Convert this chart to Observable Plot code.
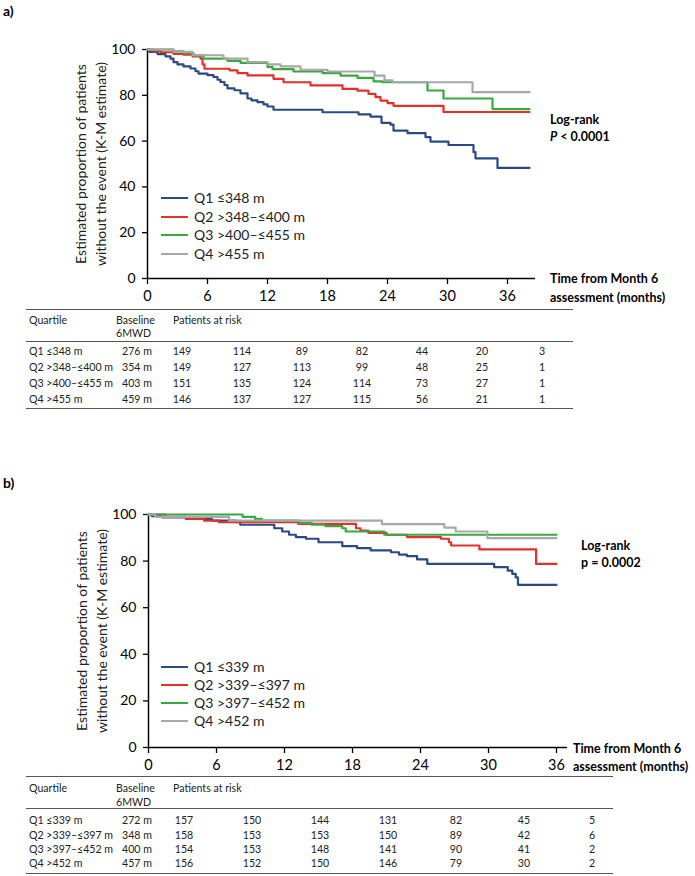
<!DOCTYPE html>
<html>
<head>
<meta charset="utf-8">
<script src="https://cdn.jsdelivr.net/npm/d3@7"></script>
<script src="https://cdn.jsdelivr.net/npm/@observablehq/plot@0.6"></script>
<style>
  html, body { margin: 0; padding: 0; background: #fff; }
  #page { position: relative; width: 695px; height: 876px; overflow: hidden; font-family: Lato, "Noto Sans", sans-serif; color: #000; }
  .abs { position: absolute; white-space: nowrap; line-height: 16px; }
  .bold { font-weight: bold; }
  .tbl { font-size: 10.6px; color: #222; }
  .hline { position: absolute; height: 0; border-top: 1px solid #555; }
  .legline { position: absolute; height: 2px; }
  svg { position: absolute; left: 0; overflow: visible; }
</style>
</head>
<body>
<div id="page"></div>
<script>
// ---------- shared ----------
const quartileColors = ["#2b4a82", "#e4302b", "#38a843", "#a8a8a8"];
const xTicks = [0, 6, 12, 18, 24, 30, 36];
const yTicks = [0, 20, 40, 60, 80, 100];
const yTitle = "Estimated proportion of patients\nwithout the event (K-M estimate)";
const xTitle1 = "Time from Month 6";
const xTitle2 = "assessment (months)";
const tableHeaders = ["Quartile", "Baseline", "6MWD", "Patients at risk"];

// ---------- panel a ----------
const labelsA = ["Q1 ≤348 m", "Q2 >348–≤400 m", "Q3 >400–≤455 m", "Q4 >455 m"];
const q1aTime = [0, 0.2, 1.0, 1.8, 2.3, 2.6, 3.0, 3.6, 4.3, 4.8, 5.1, 6.0, 6.6, 7.0, 7.3, 7.7, 8.0, 8.7, 9.3, 10.0, 10.4, 11.0, 11.6, 12.0, 12.6, 17.5, 21.1, 22.3, 23.4, 24.3, 24.6, 26.0, 27.8, 28.3, 30.1, 32.6, 32.8, 35.0, 38.2];
const q1aSurv = [100, 98.9, 98.0, 97.0, 96.0, 94.5, 93.5, 92.6, 91.7, 90.5, 89.5, 88.8, 88.0, 86.8, 85.8, 84.5, 83.0, 82.2, 80.8, 78.6, 77.8, 77.0, 76.0, 75.1, 73.7, 72.6, 71.7, 70.7, 68.0, 67.2, 64.6, 63.5, 61.7, 59.8, 58.3, 55.2, 52.5, 48.3, 48.3];
const q2aTime = [0, 0.6, 1.3, 2.6, 3.6, 4.5, 5.3, 5.5, 5.7, 8.2, 9.0, 10.0, 12.6, 13.6, 16.3, 19.5, 21.0, 22.1, 22.8, 23.3, 24.0, 24.6, 29.6, 38.2];
const q2aSurv = [100, 99.3, 98.8, 98.1, 97.7, 97.0, 96.0, 93.5, 91.6, 90.9, 89.7, 88.7, 87.2, 85.7, 84.3, 82.8, 82.0, 80.6, 79.2, 77.7, 76.6, 75.4, 72.7, 72.7];
const q3aTime = [0, 2.6, 3.6, 4.6, 5.6, 8.0, 9.3, 12.0, 12.5, 14.6, 17.5, 19.3, 21.0, 22.6, 23.5, 28.0, 29.6, 34.5, 38.2];
const q3aSurv = [100, 99.2, 98.4, 97.4, 96.0, 95.0, 94.2, 92.4, 91.4, 90.4, 89.7, 88.6, 87.6, 86.1, 85.7, 82.1, 78.6, 74.0, 74.0];
const q4aTime = [0, 2.6, 4.5, 7.6, 10.0, 12.0, 13.3, 15.3, 18.0, 22.7, 23.7, 24.5, 32.5, 38.2];
const q4aSurv = [100, 99.0, 97.5, 96.0, 94.5, 93.5, 92.6, 91.1, 90.4, 88.6, 86.5, 85.7, 81.4, 81.4];
const baselineA = ["276 m", "354 m", "403 m", "459 m"];
const atRiskQ1a = [149, 114, 89, 82, 44, 20, 3];
const atRiskQ2a = [149, 127, 113, 99, 48, 25, 1];
const atRiskQ3a = [151, 135, 124, 114, 73, 27, 1];
const atRiskQ4a = [146, 137, 127, 115, 56, 21, 1];

// ---------- panel b ----------
const labelsB = ["Q1 ≤339 m", "Q2 >339–≤397 m", "Q3 >397–≤452 m", "Q4 >452 m"];
const q1bTime = [0, 0.3, 1.2, 3.3, 5.6, 7.7, 8.1, 11.1, 11.8, 12.4, 13.0, 13.9, 15.0, 17.1, 18.4, 19.6, 21.4, 22.1, 22.8, 23.7, 24.6, 30.5, 31.7, 32.1, 32.4, 32.6, 36];
const q1bSurv = [100, 99.3, 98.8, 98.1, 97.4, 96.7, 95.6, 94.1, 92.7, 91.3, 90.3, 89.6, 88.1, 86.4, 85.6, 84.6, 83.8, 82.8, 82.1, 80.7, 78.8, 77.4, 75.9, 74.5, 73.0, 69.8, 69.8];
const q2bTime = [0, 1.5, 3.3, 4.9, 6.2, 13.2, 18.3, 18.7, 19.4, 21.0, 22.8, 25.8, 26.5, 26.7, 29.2, 34.2, 36];
const q2bSurv = [100, 99.0, 98.1, 97.4, 96.7, 96.0, 94.1, 93.1, 92.1, 91.3, 90.3, 89.6, 88.1, 86.7, 85.0, 78.8, 78.8];
const q3bTime = [0, 8.3, 9.4, 10.0, 13.3, 14.4, 15.6, 17.1, 17.4, 20.8, 36];
const q3bSurv = [100, 99.0, 98.1, 97.4, 96.4, 95.6, 95.0, 94.1, 92.7, 91.3, 91.3];
const q4bTime = [0, 0.6, 7.1, 20.6, 26.1, 27.1, 29.9, 36];
const q4bSurv = [100, 99.0, 97.4, 95.9, 94.4, 92.7, 89.9, 89.9];
const baselineB = ["272 m", "348 m", "400 m", "457 m"];
const atRiskQ1b = [157, 150, 144, 131, 82, 45, 5];
const atRiskQ2b = [158, 153, 153, 150, 89, 42, 6];
const atRiskQ3b = [154, 153, 148, 141, 90, 41, 2];
const atRiskQ4b = [156, 152, 150, 146, 79, 30, 2];

// ---------- helpers ----------
const page = document.getElementById("page");

function txt(html, left, cy, cls = "", extra = {}) {
  const d = document.createElement("div");
  d.className = "abs " + cls;
  d.innerHTML = html;
  d.style.left = left + "px";
  d.style.top = (cy - 8) + "px";
  Object.assign(d.style, extra);
  page.appendChild(d);
  return d;
}
function hline(x1, x2, y) {
  const d = document.createElement("div");
  d.className = "hline";
  d.style.left = x1 + "px";
  d.style.width = (x2 - x1) + "px";
  d.style.top = y + "px";
  page.appendChild(d);
}
function toRows(times, survs, series) {
  return times.map((t, i) => ({t, s: survs[i], series}));
}

function panel(cfg) {
  const rows = cfg.curves.flatMap(([tt, ss], i) => toRows(tt, ss, cfg.labels[i]));
  const chart = Plot.plot({
    width: 695,
    height: cfg.height,
    marginTop: cfg.mTop,
    marginBottom: cfg.height - cfg.y0,
    marginLeft: cfg.mLeft,
    marginRight: 695 - cfg.xEnd,
    style: {fontFamily: "Lato, 'Noto Sans', sans-serif", fontSize: "14px", color: "#000", background: "transparent"},
    x: {domain: [0, cfg.xMax]},
    y: {domain: [0, 100]},
    color: {domain: cfg.labels, range: quartileColors},
    marks: [
      Plot.axisX({ticks: xTicks, tickSize: 6, tickPadding: 6, label: null, fontSize: 14.5, strokeWidth: 1.3}),
      Plot.axisY({ticks: yTicks, tickSize: 5, tickPadding: 7, label: null, fontSize: 14, strokeWidth: 1.3}),
      Plot.ruleY([0], {stroke: "#000", strokeWidth: 1.5}),
      Plot.ruleX([0], {stroke: "#000", strokeWidth: 1.5}),
      Plot.line(rows, {x: "t", y: "s", z: "series", stroke: "series", curve: "step-after", strokeWidth: 2.2}),
      Plot.text([yTitle], {frameAnchor: "left", textAnchor: "middle", rotate: -90, dx: -58, lineHeight: 1.4, fontSize: 14, fill: "#222"})
    ]
  });
  chart.style.top = cfg.top + "px";
  page.appendChild(chart);
  const xs = chart.scale("x");
  const X = t => xs.apply(t);

  // panel label
  txt(cfg.tag, 3, cfg.tagY, "bold", {fontSize: "14px"});
  // legend
  cfg.labels.forEach((lab, i) => {
    const cy = cfg.legY[i];
    const l = document.createElement("div");
    l.className = "legline";
    l.style.left = cfg.legX + "px";
    l.style.width = "27px";
    l.style.top = Math.round(cy - 1) + "px";
    l.style.background = quartileColors[i];
    page.appendChild(l);
    txt(lab, cfg.legX + 33, cy, "", {fontSize: "14px", color: "#222"});
  });
  // log-rank
  txt("Log-rank", cfg.lrX, cfg.lrY[0], "bold", {fontSize: "12.5px"});
  txt(cfg.pText, cfg.lrX, cfg.lrY[1], "bold", {fontSize: "12.5px"});
  // x title
  txt(xTitle1, cfg.xtX, cfg.xtY[0], "bold", {fontSize: "12.5px"});
  txt(xTitle2, cfg.xtX, cfg.xtY[1], "bold", {fontSize: "12.5px"});

  // table
  const T = cfg.table;
  hline(T.x1, T.x2, T.lines[0]);
  hline(T.x1, T.x2, T.lines[1]);
  hline(T.x1, T.x2, T.lines[2]);
  txt(tableHeaders[0], 29, T.headY, "tbl");
  txt(tableHeaders[1], 116, T.headY, "tbl");
  txt(tableHeaders[2], 116, T.headY2, "tbl");
  txt(tableHeaders[3], 173, T.headY, "tbl");
  cfg.labels.forEach((lab, i) => {
    const cy = T.rowY[i];
    txt(lab, 29, cy, "tbl");
    txt(cfg.baseline[i], 122, cy, "tbl");
    cfg.atRisk[i].forEach((n, j) => {
      txt(String(n), X(xTicks[j]) + T.colOff - 20, cy, "tbl", {width: "40px", textAlign: "center"});
    });
  });
}

panel({
  top: 0, height: 320, mTop: 49, y0: 278, mLeft: 147, xEnd: 535, xMax: 38.8,
  labels: labelsA,
  curves: [[q1aTime, q1aSurv], [q2aTime, q2aSurv], [q3aTime, q3aSurv], [q4aTime, q4aSurv]],
  tag: "a)", tagY: 11,
  legX: 161, legY: [198, 217, 235, 254],
  lrX: 550, lrY: [120, 137], pText: "<i>P</i> &lt; 0.0001",
  xtX: 550, xtY: [279, 298],
  baseline: baselineA,
  atRisk: [atRiskQ1a, atRiskQ2a, atRiskQ3a, atRiskQ4a],
  table: {x1: 26, x2: 573, lines: [309, 341, 408], headY: 320, headY2: 333, rowY: [351, 367, 383, 399], colOff: 35}
});

panel({
  top: 440, height: 350, mTop: 74, y0: 307, mLeft: 148, xEnd: 567, xMax: 36.97,
  labels: labelsB,
  curves: [[q1bTime, q1bSurv], [q2bTime, q2bSurv], [q3bTime, q3bSurv], [q4bTime, q4bSurv]],
  tag: "b)", tagY: 483,
  legX: 161, legY: [667, 685, 703, 721],
  lrX: 581, lrY: [546, 563], pText: "p = 0.0002",
  xtX: 573, xtY: [749, 767],
  baseline: baselineB,
  atRisk: [atRiskQ1b, atRiskQ2b, atRiskQ3b, atRiskQ4b],
  table: {x1: 26, x2: 613, lines: [776, 808, 873], headY: 788, headY2: 802, rowY: [820, 835, 849, 863], colOff: 36}
});
</script>
</body>
</html>
